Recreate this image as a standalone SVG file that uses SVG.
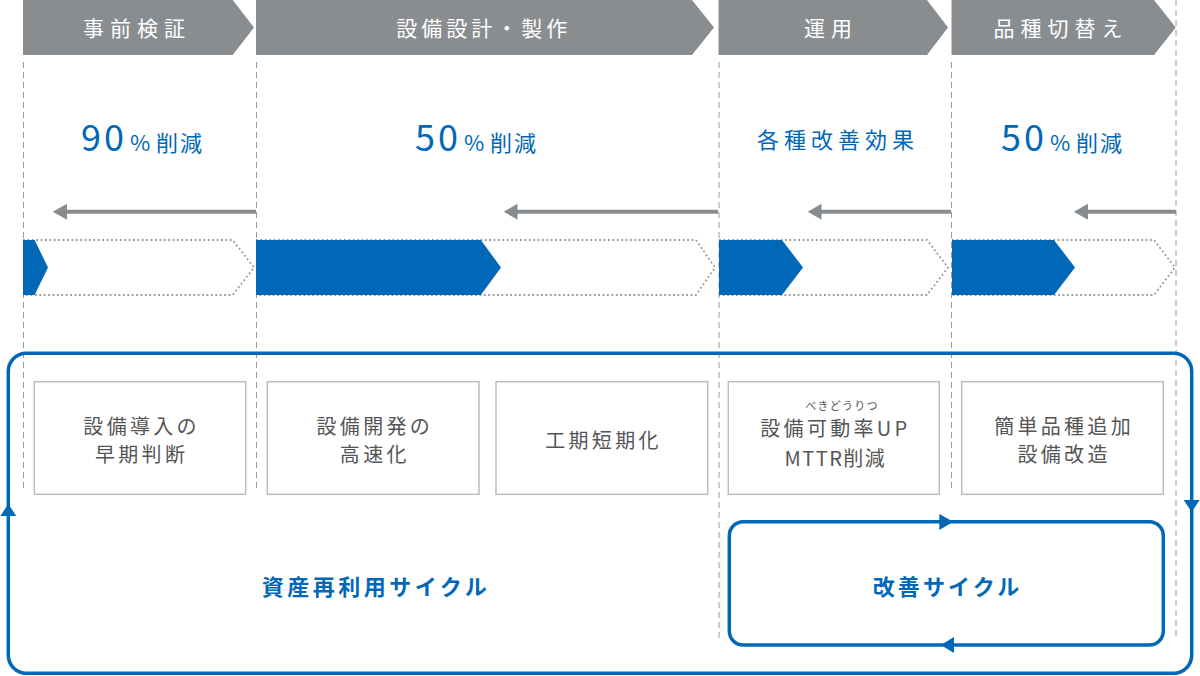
<svg xmlns="http://www.w3.org/2000/svg" width="1200" height="676" viewBox="0 0 1200 676">
<style>
.hdr{fill:#898d90}
.hdrt{fill:#fff;font-family:"Noto Sans CJK JP","Noto Sans",sans-serif;font-size:21px;letter-spacing:6px;text-anchor:middle}
.vd{stroke:#9a9a9a;stroke-width:1;stroke-dasharray:6 4;fill:none}
.blue{fill:#0068b7}
.dot{fill:none;stroke:#999;stroke-width:1.8;stroke-dasharray:1.8 2.6}
.pct{fill:#0068b7;font-family:"Noto Sans CJK JP","Noto Sans",sans-serif}
.big{font-size:36px;letter-spacing:3px}
.sm{font-size:22px}
.kj{font-size:22px;letter-spacing:2px}
.garr{stroke:#888c8f;stroke-width:4;fill:none}
.gh{fill:#888c8f}
.box{fill:#fff;stroke:#bdbdbd;stroke-width:1.5}
.bt{fill:#555;font-family:"Noto Sans CJK JP","Noto Sans",sans-serif;font-size:20px;letter-spacing:3.3px;text-anchor:middle}
.ruby{fill:#555;font-family:"Noto Sans CJK JP","Noto Sans",sans-serif;font-size:11px;letter-spacing:1.2px;text-anchor:middle}
.loop{fill:none;stroke:#0068b7;stroke-width:3.5}
.lh{fill:#0068b7}
.lbl{fill:#0068b7;font-family:"Noto Sans CJK JP","Noto Sans",sans-serif;font-size:22px;font-weight:bold;text-anchor:middle}
</style>
<rect width="1200" height="676" fill="#fff"/>
<g id="guides">
<line class="vd" x1="23.5" y1="62" x2="23.5" y2="490"/>
<line class="vd" x1="256.5" y1="62" x2="256.5" y2="490"/>
<line class="vd" x1="719" y1="62" x2="719" y2="640"/>
<line class="vd" x1="951.5" y1="62" x2="951.5" y2="490"/>
<line class="vd" x1="1176" y1="0" x2="1176" y2="640"/>
</g>
<g id="phase-1">
<polygon class="hdr" points="23,0 232.7,0 254,27.5 232.7,55 23,55"/>
<text class="hdrt" x="137" y="35.5">事前検証</text>
<text class="pct" y="151"><tspan class="big" x="81">90</tspan><tspan class="sm" x="130">%</tspan><tspan class="kj" x="156">削減</tspan></text>
<polyline class="dot" points="23,240 232.7,240 254,267.5 232.7,295 23,295"/>
<polygon class="blue" points="23,240 34.6,240 48,267.5 34.6,295 23,295"/>
</g>
<g id="phase-2">
<polygon class="hdr" points="256,0 692,0 714,27.5 692,55 256,55"/>
<text class="hdrt" x="483.7" y="35.5" style="letter-spacing:4px">設備設計・製作</text>
<text class="pct" y="151"><tspan class="big" x="415">50</tspan><tspan class="sm" x="464">%</tspan><tspan class="kj" x="490">削減</tspan></text>
<polyline class="dot" points="256,240 696,240 715,267.5 696,295 256,295"/>
<polygon class="blue" points="256,240 480.8,240 501,267.5 480.8,295 256,295"/>
</g>
<g id="phase-3">
<polygon class="hdr" points="718.5,0 927,0 948,27.5 927,55 718.5,55"/>
<text class="hdrt" x="831" y="35.5">運用</text>
<text class="pct kj" x="838" y="148" style="letter-spacing:5px;text-anchor:middle">各種改善効果</text>
<polyline class="dot" points="719,240 927,240 948,267.5 927,295 719,295"/>
<polygon class="blue" points="719,240 782,240 803,267.5 782,295 719,295"/>
</g>
<g id="phase-4">
<polygon class="hdr" points="951.5,0 1154,0 1175.8,27.5 1154,55 951.5,55"/>
<text class="hdrt" x="1061" y="35.5">品種切替え</text>
<text class="pct" y="151"><tspan class="big" x="1001">50</tspan><tspan class="sm" x="1050">%</tspan><tspan class="kj" x="1076">削減</tspan></text>
<polyline class="dot" points="952,240 1154,240 1175,267.5 1154,295 952,295"/>
<polygon class="blue" points="952,240 1054,240 1075,267.5 1054,295 952,295"/>
</g>
<g id="connectors">
<line class="garr" x1="256" y1="211.7" x2="66" y2="211.7"/>
<polygon class="gh" points="52.7,211.7 67,203.7 67,219.7"/>
<line class="garr" x1="718" y1="211.7" x2="516" y2="211.7"/>
<polygon class="gh" points="503.8,211.7 517.5,203.7 517.5,219.7"/>
<line class="garr" x1="951" y1="211.7" x2="820" y2="211.7"/>
<polygon class="gh" points="807.7,211.7 821.5,203.7 821.5,219.7"/>
<line class="garr" x1="1176" y1="211.7" x2="1087" y2="211.7"/>
<polygon class="gh" points="1073.8,211.7 1088,203.7 1088,219.7"/>
<rect class="loop" x="8.3" y="353.3" width="1183.4" height="320" rx="18"/>
<polygon class="lh" points="8.3,504 0.3,516 16.3,516"/>
<polygon class="lh" points="1183.7,500 1199.7,500 1191.7,512"/>
<rect class="loop" x="729.3" y="521.7" width="434" height="123.3" rx="14"/>
<polygon class="lh" points="939.3,514 953.3,521.7 939.3,530"/>
<polygon class="lh" points="954,637 940.7,645 954,653"/>
</g>
<g id="box-1">
<rect class="box" x="34.3" y="381.7" width="211.4" height="112.6"/>
<text class="bt" x="141.6" y="434">設備導入の</text>
<text class="bt" x="141.6" y="462">早期判断</text>
</g>
<g id="box-2">
<rect class="box" x="267.3" y="381.7" width="211.7" height="112.6"/>
<text class="bt" x="374.8" y="434">設備開発の</text>
<text class="bt" x="374.8" y="462">高速化</text>
</g>
<g id="box-3">
<rect class="box" x="496" y="381.7" width="211.7" height="112.6"/>
<text class="bt" x="603.5" y="448">工期短期化</text>
</g>
<g id="box-4">
<rect class="box" x="728.3" y="381.7" width="211" height="112.6"/>
<text class="ruby" x="842" y="410">べきどうりつ</text>
<text class="bt" x="835.4" y="436">設備可動率UP</text>
<text class="bt" x="835.4" y="466" style="letter-spacing:1.5px">MTTR削減</text>
</g>
<g id="box-5">
<rect class="box" x="961.7" y="381.7" width="201.6" height="112.6"/>
<text class="bt" x="1064.1" y="434">簡単品種追加</text>
<text class="bt" x="1064.1" y="462">設備改造</text>
</g>
<g id="labels">
<text class="lbl" x="376" y="595" style="letter-spacing:3.5px">資産再利用サイクル</text>
<text class="lbl" x="947.5" y="595" style="letter-spacing:3.1px">改善サイクル</text>
</g>
</svg>
